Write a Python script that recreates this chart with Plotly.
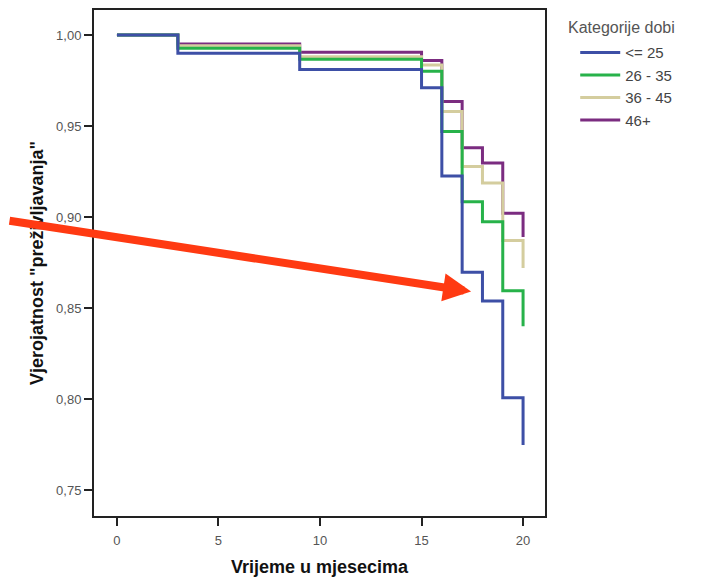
import plotly.graph_objects as go

times = [0, 3, 9, 15, 16, 17, 18, 19, 20]
surv_le25 = [1.0, 0.990, 0.981, 0.971, 0.9225, 0.8696, 0.8538, 0.8007, 0.7747]
surv_26_35 = [1.0, 0.9927, 0.9866, 0.980, 0.947, 0.9084, 0.8974, 0.8595, 0.840]
surv_36_45 = [1.0, 0.994, 0.988, 0.9835, 0.958, 0.9277, 0.9187, 0.887, 0.872]
surv_46p = [1.0, 0.995, 0.9905, 0.986, 0.9634, 0.938, 0.9297, 0.902, 0.889]

groups = ["<= 25", "26 - 35", "36 - 45", "46+"]
colors = ["#3d4fa6", "#27b24a", "#d4cd9e", "#7b2c80"]
series = [surv_le25, surv_26_35, surv_36_45, surv_46p]

fig = go.Figure()
# draw later groups first so "<= 25" lies on top
for i in reversed(range(4)):
    fig.add_trace(go.Scatter(
        x=times, y=series[i], mode="lines", name=groups[i],
        legendgroup=groups[i],
        line=dict(color=colors[i], width=3, shape="hv"),
        legendrank=i + 1,
    ))

font_main = "Liberation Sans, Arial, sans-serif"

# page body has an 8px margin; compensate so the plot box lands where it should
fig.update_layout(
    width=696, height=569,
    margin=dict(l=86, r=159, t=2, b=61),
    paper_bgcolor="white", plot_bgcolor="white",
    separators=",.",
    font=dict(family=font_main, color="#444"),
    showlegend=True,
    legend=dict(
        x=1.067, y=0.948, xanchor="left", yanchor="top",
        font=dict(size=15, color="#444"),
        tracegroupgap=0, itemwidth=40,
        bgcolor="rgba(0,0,0,0)",
    ),
    xaxis=dict(
        range=[-1.13, 21.08], tickvals=[0, 5, 10, 15, 20],
        ticks="outside", ticklen=8, tickwidth=2, tickcolor="#222",
        showline=True, linecolor="#222", linewidth=2, mirror=True,
        showgrid=False, zeroline=False, automargin=False,
        tickfont=dict(size=13, color="#555"),
        ticklabelstandoff=3,
        title=dict(text="<b>Vrijeme u mjesecima</b>", font=dict(size=18, color="#111"), standoff=15),
    ),
    yaxis=dict(
        range=[0.7357, 1.0137], tickvals=[0.75, 0.80, 0.85, 0.90, 0.95, 1.00],
        tickformat=".2f",
        ticks="outside", ticklen=8, tickwidth=2, tickcolor="#222",
        showline=True, linecolor="#222", linewidth=2, mirror=True,
        showgrid=False, zeroline=False, automargin=False,
        tickfont=dict(size=13, color="#555"),
        title=dict(text="<b>Vjerojatnost \"preživljavanja\"</b>", font=dict(size=18, color="#111"), standoff=8),
    ),
)

fig.add_annotation(
    text="Kategorije dobi", xref="paper", yref="paper",
    x=1.047, y=0.965, xanchor="left", yanchor="middle",
    showarrow=False, font=dict(size=16, color="#555", family=font_main),
)

fig.add_annotation(
    x=17.44, y=0.859, xref="x", yref="y",
    ax=-475, ay=-71, axref="pixel", ayref="pixel",
    showarrow=True, arrowhead=2, arrowsize=0.7, arrowwidth=8,
    arrowcolor="#ff3a12", text="",
)

fig.write_html("out.html")
